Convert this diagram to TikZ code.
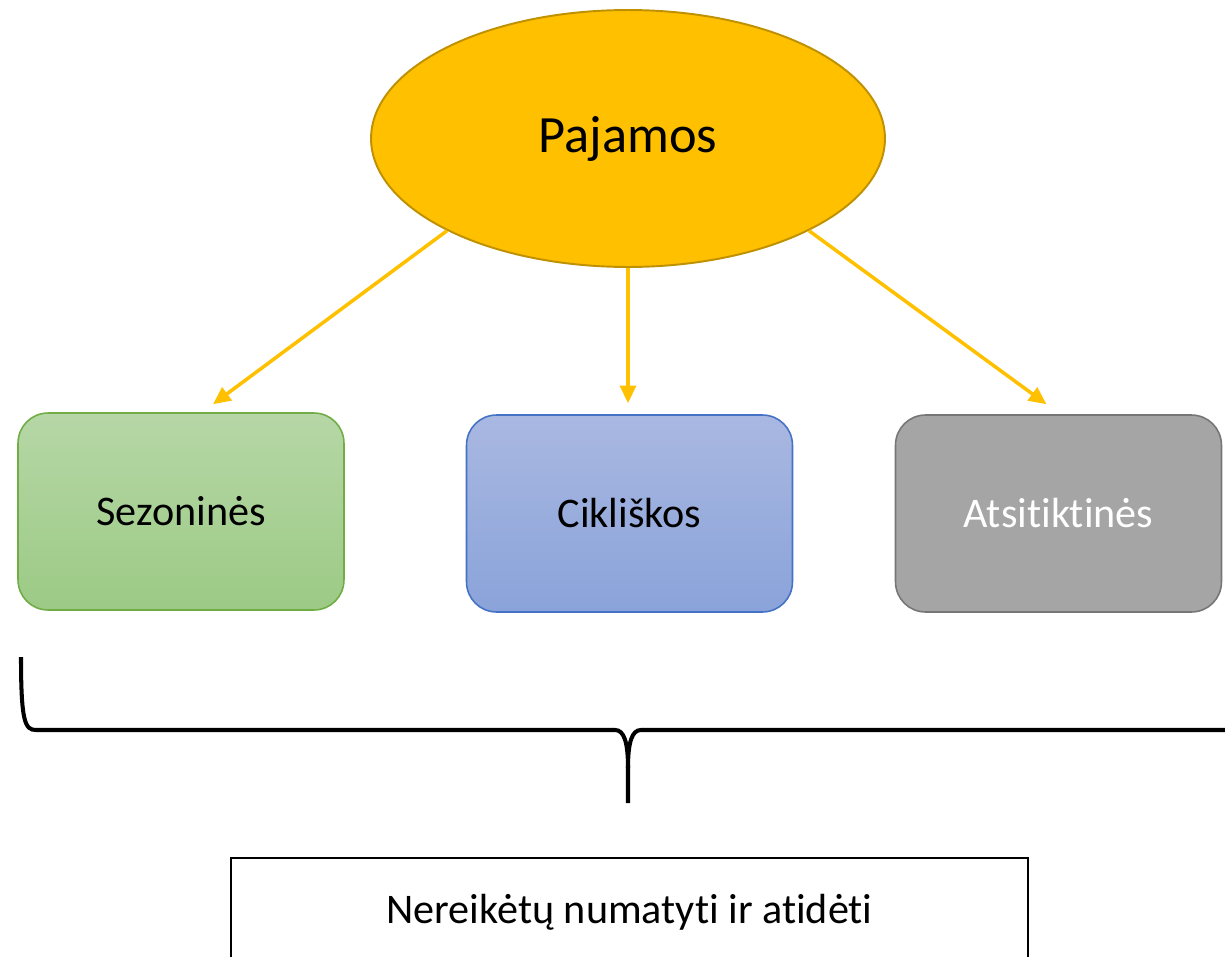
\documentclass[tikz,border=0pt]{standalone}
\usepackage{fontspec}
\setmainfont{Carlito}[RawFeature={-liga;-clig;-dlig;-calt;-rlig}]
\usepackage{tikz}
\usetikzlibrary{arrows.meta,calc,shapes.geometric}
\definecolor{incgold}{RGB}{255,192,0}
\definecolor{incgoldline}{RGB}{191,144,0}
\definecolor{seztop}{RGB}{182,215,166}
\definecolor{sezbot}{RGB}{156,202,133}
\definecolor{sezline}{RGB}{112,173,71}
\definecolor{ciktop}{RGB}{169,184,225}
\definecolor{cikbot}{RGB}{138,163,218}
\definecolor{cikline}{RGB}{68,114,196}
\definecolor{atsfill}{RGB}{165,165,165}
\definecolor{atsline}{RGB}{118,118,118}

\begin{document}
\begin{tikzpicture}[
        x=0.02cm,y=-0.02cm,
        font=\fontsize{24}{28}\selectfont,
        income/.style={draw=incgoldline,line width=1.1pt,fill=incgold,shape=ellipse,minimum width=10.28cm,minimum height=5.14cm,font=\fontsize{29.8}{34}\selectfont},
        kind/.style={rounded corners=0.6cm,line width=0.9pt,minimum width=6.52cm,minimum height=3.94cm,align=center},
        note/.style={draw,line width=1.4pt,minimum width=15.94cm,minimum height=2.16cm},
        link/.style={-{Triangle[length=10pt,width=9pt]},line width=2pt,draw=incgold},
        bracepen/.style={line width=2.3pt,line cap=butt}
    ]
        \path[use as bounding box,clip] (0,0) rectangle (1225,957);

        \node[income] (pajamos) at (628,138.5) {Pajamos};

        \node[kind,draw=sezline,top color=seztop,bottom color=sezbot] (sez) at (181,511.5) {Sezoninės};
        \node[kind,draw=cikline,top color=ciktop,bottom color=cikbot] (cik) at (629.5,513.5) {Cikliškos};
        \node[kind,draw=atsline,fill=atsfill,text=white] (ats) at (1058.5,513.5) {Atsitiktinės};

        \draw[link] (pajamos.207) -- ($(sez.north)+(32,-8)$);
        \draw[link] (pajamos.south) -- ($(cik.north)+(-1.5,-11)$);
        \draw[link] (pajamos.333) -- ($(ats.north)+(-12,-10)$);

        % brace under the three kinds
        \coordinate (braceleft) at (21,657);
        \coordinate (bracetip) at (628,803);
        \coordinate (braceright) at (1240,730);
        \draw[bracepen] (braceleft) .. controls (21,722) and (25,730) .. (36,730) -- (615,730)
            .. controls (624,730) and (628,742) .. (628,768) -- (bracetip);
        \draw[bracepen] (628,768) .. controls (628,742) and (632,730) .. (641,730) -- (braceright);

        \node[note] (nereiketu) at (629.5,912) {Nereikėtų numatyti ir atidėti};
    \end{tikzpicture}
\end{document}
